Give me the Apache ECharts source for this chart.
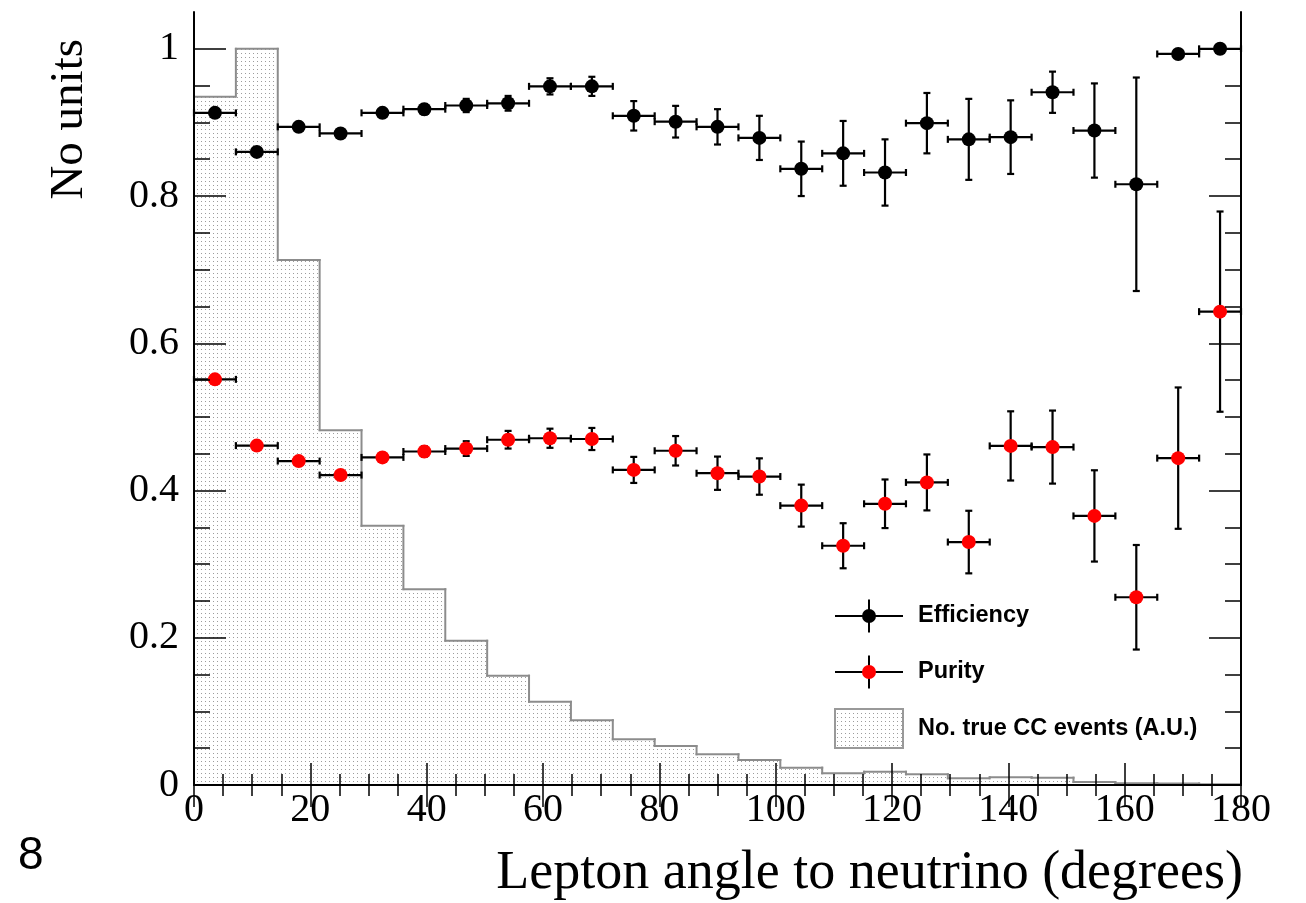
<!DOCTYPE html>
<html>
<head>
<meta charset="utf-8">
<script src="https://cdn.jsdelivr.net/npm/echarts@6/dist/echarts.min.js"></script>
<style>
  html, body { margin: 0; padding: 0; background: #ffffff; }
  #chart { width: 1306px; height: 903px; }
</style>
</head>
<body>
<div id="chart"></div>
<script>
// Lepton angle bins (degrees): 25 bins of 7.2 degrees between 0 and 180
const angleCenters = [3.6, 10.8, 18, 25.2, 32.4, 39.6, 46.8, 54, 61.2, 68.4, 75.6, 82.8, 90,
  97.2, 104.4, 111.6, 118.8, 126, 133.2, 140.4, 147.6, 154.8, 162, 169.2, 176.4];
const binHalfWidth = 3.6;

// Selection efficiency per bin and its uncertainty
const efficiency = [0.913, 0.860, 0.894, 0.885, 0.913, 0.918, 0.923, 0.926, 0.949, 0.949,
  0.909, 0.901, 0.894, 0.879, 0.837, 0.858, 0.832, 0.899, 0.877, 0.880, 0.941, 0.889, 0.816, 0.993, 1.0];
const efficiencyErr = [0.004, 0.005, 0.005, 0.005, 0.006, 0.007, 0.009, 0.010, 0.011, 0.013,
  0.020, 0.0215, 0.024, 0.030, 0.037, 0.044, 0.045, 0.041, 0.055, 0.050, 0.028, 0.064, 0.145, 0, 0];

// Sample purity per bin and its uncertainty
const purity = [0.551, 0.461, 0.440, 0.421, 0.445, 0.453, 0.457, 0.469, 0.471, 0.470,
  0.428, 0.454, 0.4235, 0.419, 0.3795, 0.325, 0.382, 0.411, 0.330, 0.4606, 0.459, 0.3655, 0.255, 0.444, 0.643];
const purityErr = [0.005, 0.005, 0.005, 0.006, 0.006, 0.007, 0.010, 0.012, 0.013, 0.015,
  0.0177, 0.020, 0.0226, 0.0247, 0.0285, 0.0306, 0.033, 0.038, 0.0425, 0.047, 0.0496, 0.062, 0.071, 0.096, 0.136];

// Number of true CC events per bin, arbitrary units (peak normalised to 1)
const trueCC = [0.935, 1.0, 0.713, 0.482, 0.352, 0.266, 0.196, 0.1485, 0.113, 0.088,
  0.062, 0.053, 0.0417, 0.034, 0.0236, 0.0159, 0.018, 0.0145, 0.009, 0.0105, 0.010, 0.004, 0.0025, 0.002, 0.001];

// Axis ticks and labels
const xTickLabels = [0, 20, 40, 60, 80, 100, 120, 140, 160, 180];
const yMajorTicks = [0, 0.2, 0.4, 0.6, 0.8, 1];
const yMinorTicks = [0.05, 0.1, 0.15, 0.25, 0.3, 0.35, 0.45, 0.5, 0.55, 0.65, 0.7, 0.75, 0.85, 0.9, 0.95];

const SERIF = '"Liberation Serif", "Times New Roman", serif';
const SANS = '"Liberation Sans", Arial, sans-serif';
const HIST_LINE = '#8c8c8c';

// Sparse dotted fill used for the event-count histogram
function makeDotPattern() {
  const c = document.createElement('canvas');
  c.width = 4; c.height = 4;
  const g = c.getContext('2d');
  g.fillStyle = '#ffffff';
  g.fillRect(0, 0, 4, 4);
  g.fillStyle = '#9c9c9c';
  g.fillRect(1, 1, 1, 1);
  return c;
}
const dotFill = { image: makeDotPattern(), repeat: 'repeat' };

const chart = echarts.init(document.getElementById('chart'), null, { renderer: 'canvas' });

const tickLine = { color: '#000', width: 1.5 };
const frameLine = { show: true, lineStyle: { color: '#000', width: 2 } };

function xAxisDef(position, withLabels) {
  return {
    type: 'value', position, min: 0, max: 180, interval: 20, z: 5,
    axisLine: frameLine,
    axisTick: { show: true, inside: true, length: 22, lineStyle: tickLine },
    minorTick: { show: true, splitNumber: 4, length: 11, lineStyle: tickLine },
    splitLine: { show: false },
    axisLabel: withLabels ? {
      show: true, margin: 5, color: '#000', fontFamily: SERIF, fontSize: 40,
      customValues: xTickLabels
    } : { show: false }
  };
}

function yAxisDef(position, major, withLabels) {
  return {
    type: 'value', position, min: 0, max: 1.05, interval: 0.2, z: 5,
    axisLine: major ? frameLine : { show: false },
    axisTick: {
      show: true, inside: true, length: major ? 32 : 16, lineStyle: tickLine,
      customValues: major ? yMajorTicks : yMinorTicks
    },
    splitLine: { show: false },
    axisLabel: withLabels ? {
      show: true, margin: 15, color: '#000', fontFamily: SERIF, fontSize: 40,
      customValues: yMajorTicks,
      formatter: v => (v === 0 ? '0' : v === 1 ? '1' : v.toFixed(1))
    } : { show: false }
  };
}

const xBottom = xAxisDef('bottom', true);
xBottom.name = 'Lepton angle to neutrino (degrees)';
xBottom.nameLocation = 'end';
xBottom.nameGap = 2;
xBottom.nameMoveOverlap = false;
xBottom.nameTextStyle = {
  fontFamily: SERIF, fontSize: 54, color: '#000',
  align: 'right', verticalAlign: 'top', padding: [62, 0, 0, 0]
};

const yLeft = yAxisDef('left', true, true);
yLeft.name = 'No units';
yLeft.nameLocation = 'end';
yLeft.nameRotate = 90;
yLeft.nameGap = -27;
yLeft.nameMoveOverlap = false;
yLeft.nameTextStyle = {
  fontFamily: SERIF, fontSize: 47, color: '#000',
  align: 'right', verticalAlign: 'bottom', padding: [0, 0, 101, 0]
};

// Histogram drawn bin by bin: dotted body, grey top edge and the step from the previous bin
function renderHistBin(params, api) {
  const x0 = api.value(0), x1 = api.value(1), h = api.value(2), hPrev = api.value(3), isLast = api.value(4);
  const bl = api.coord([x0, 0]);
  const tl = api.coord([x0, h]);
  const tr = api.coord([x1, h]);
  const pl = api.coord([x0, hPrev]);
  const edge = { stroke: HIST_LINE, lineWidth: 2, lineCap: 'square' };
  const children = [
    { type: 'rect', silent: true,
      shape: { x: bl[0], y: tr[1], width: tr[0] - bl[0], height: bl[1] - tr[1] },
      style: { fill: dotFill } },
    { type: 'line', silent: true, shape: { x1: tl[0], y1: tl[1], x2: tr[0], y2: tr[1] }, style: edge },
    { type: 'line', silent: true, shape: { x1: pl[0], y1: pl[1], x2: tl[0], y2: tl[1] }, style: edge }
  ];
  if (isLast) {
    const br = api.coord([x1, 0]);
    children.push({ type: 'line', silent: true, shape: { x1: tr[0], y1: tr[1], x2: br[0], y2: br[1] }, style: edge });
  }
  return { type: 'group', children };
}

// Error bars: horizontal bar over the bin width and vertical bar for the uncertainty, both with end caps
function renderErrorBar(params, api) {
  const x = api.value(0), y = api.value(1), e = api.value(2);
  const left = api.coord([x - binHalfWidth, y]);
  const right = api.coord([x + binHalfWidth, y]);
  const cap = 3.5;
  const st = { stroke: '#000', lineWidth: 2.2 };
  const children = [
    { type: 'line', shape: { x1: left[0], y1: left[1], x2: right[0], y2: right[1] }, style: st },
    { type: 'line', shape: { x1: left[0], y1: left[1] - cap, x2: left[0], y2: left[1] + cap }, style: st },
    { type: 'line', shape: { x1: right[0], y1: right[1] - cap, x2: right[0], y2: right[1] + cap }, style: st }
  ];
  if (e > 0) {
    const top = api.coord([x, y + e]);
    const bot = api.coord([x, y - e]);
    children.push(
      { type: 'line', shape: { x1: top[0], y1: top[1], x2: bot[0], y2: bot[1] }, style: st },
      { type: 'line', shape: { x1: top[0] - cap, y1: top[1], x2: top[0] + cap, y2: top[1] }, style: st },
      { type: 'line', shape: { x1: bot[0] - cap, y1: bot[1], x2: bot[0] + cap, y2: bot[1] }, style: st }
    );
  }
  return { type: 'group', silent: true, children };
}

const histData = trueCC.map((h, i) => [
  angleCenters[i] - binHalfWidth, angleCenters[i] + binHalfWidth, h,
  i > 0 ? trueCC[i - 1] : 0, i === trueCC.length - 1 ? 1 : 0
]);
const effErrData = efficiency.map((v, i) => [angleCenters[i], v, efficiencyErr[i]]);
const purErrData = purity.map((v, i) => [angleCenters[i], v, purityErr[i]]);
const effPoints = efficiency.map((v, i) => [angleCenters[i], v]);
const purPoints = purity.map((v, i) => [angleCenters[i], v]);

// Legend drawn as graphics so the markers carry their error-bar crosses
const LX = 835, LW = 68, LTX = 918;
const legendFont = 'bold 23.5px ' + SANS;
function legendMarker(yc, color) {
  const mid = LX + LW / 2;
  return [
    { type: 'line', shape: { x1: LX, y1: yc, x2: LX + LW, y2: yc }, style: { stroke: '#000', lineWidth: 2 } },
    { type: 'line', shape: { x1: mid, y1: yc - 16.5, x2: mid, y2: yc + 16.5 }, style: { stroke: '#000', lineWidth: 2 } },
    { type: 'circle', shape: { cx: mid, cy: yc, r: 7 }, style: { fill: color } }
  ];
}

const option = {
  backgroundColor: '#ffffff',
  animation: false,
  grid: { left: 194, right: 65, top: 12, bottom: 118, containLabel: false, outerBoundsMode: 'none' },
  xAxis: [xBottom, xAxisDef('top', false)],
  yAxis: [
    yLeft,
    yAxisDef('left', false, false),
    yAxisDef('right', true, false),
    yAxisDef('right', false, false)
  ],
  series: [
    { type: 'custom', name: 'No. true CC events (A.U.)', xAxisIndex: 0, yAxisIndex: 0, z: 1,
      renderItem: renderHistBin, data: histData },
    { type: 'custom', name: 'Efficiency errors', xAxisIndex: 0, yAxisIndex: 0, z: 3,
      renderItem: renderErrorBar, data: effErrData },
    { type: 'custom', name: 'Purity errors', xAxisIndex: 0, yAxisIndex: 0, z: 3,
      renderItem: renderErrorBar, data: purErrData },
    { type: 'scatter', name: 'Efficiency', xAxisIndex: 0, yAxisIndex: 0, z: 4,
      symbol: 'circle', symbolSize: 14, itemStyle: { color: '#000000', opacity: 1 }, data: effPoints },
    { type: 'scatter', name: 'Purity', xAxisIndex: 0, yAxisIndex: 0, z: 4,
      symbol: 'circle', symbolSize: 14, itemStyle: { color: '#ff0000', opacity: 1 }, data: purPoints }
  ],
  graphic: [
    ...legendMarker(616, '#000000'),
    { type: 'text', x: LTX, y: 616, style: { text: 'Efficiency', font: legendFont, fill: '#000', verticalAlign: 'middle' } },
    ...legendMarker(672, '#ff0000'),
    { type: 'text', x: LTX, y: 672, style: { text: 'Purity', font: legendFont, fill: '#000', verticalAlign: 'middle' } },
    { type: 'rect', shape: { x: LX, y: 709, width: LW, height: 39 }, style: { fill: dotFill, stroke: '#999999', lineWidth: 2 } },
    { type: 'text', x: LTX, y: 729, style: { text: 'No. true CC events (A.U.)', font: legendFont, fill: '#000', verticalAlign: 'middle' } },
    { type: 'text', x: 18, y: 856, style: { text: '8', font: '46px ' + SANS, fill: '#000', verticalAlign: 'middle' } }
  ]
};

chart.setOption(option);
</script>
</body>
</html>
